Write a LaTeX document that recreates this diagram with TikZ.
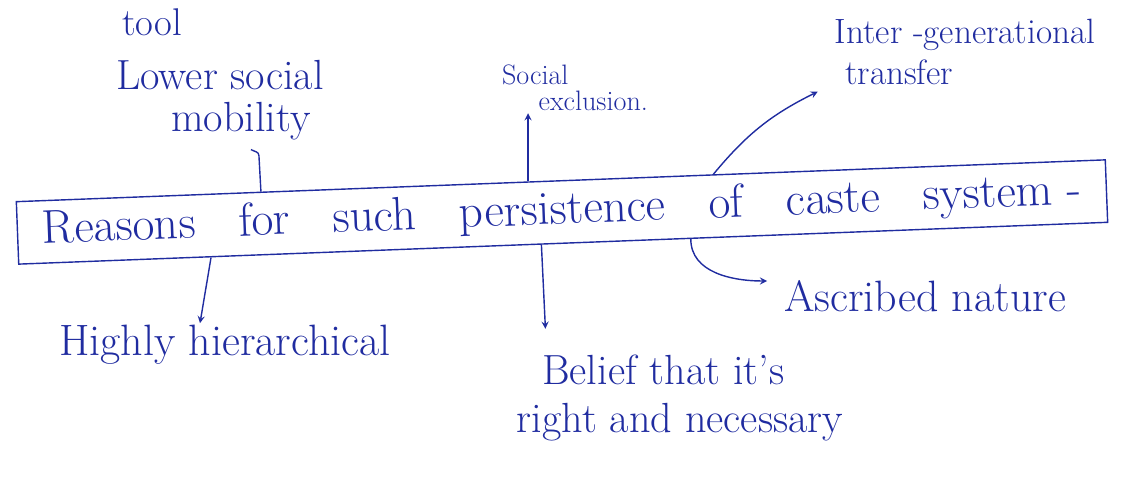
\documentclass[tikz,border=0pt]{standalone}
\usepackage{tikz}
\usetikzlibrary{arrows,positioning,calc}
\definecolor{ink}{RGB}{32,44,160}
\tikzstyle{arrow} = [thick,->,>=stealth,draw=ink]
\tikzstyle{stroke} = [thick,draw=ink]
\tikzstyle{note} = [text=ink,inner sep=1pt,align=left,font=\fontsize{24}{24}\selectfont]
\tikzstyle{titlebox} = [draw=ink,thick,text=ink,rotate=2.2,minimum width=21.8cm,minimum height=1.25cm,font=\fontsize{27}{30}\selectfont]

\begin{document}
\begin{tikzpicture}[x=0.02cm,y=-0.02cm]
	\useasboundingbox (0,0) rectangle (1137,482);
	% the reason box
	\node[titlebox] (reasons) at (562,212) {Reasons \ \ for \ \ such \ \ persistence \ \ of \ \ caste \ \ system -};
	% labels round it
	\node[note,font=\fontsize{22}{24}\selectfont] (tool) at (152,22) {tool};
	\node[note,align=center] (mobility) at (220,100) {Lower social\\\hspace*{1em}mobility};
	\node[note,font=\fontsize{16}{15}\selectfont] (exclusion) at (575,88) {Social\\\hspace*{1.3em}exclusion.};
	\node[note,font=\fontsize{20}{23}\selectfont] (transfer) at (965,52) {Inter -generational\\\hspace*{0.3em}transfer};
	\node[note,font=\fontsize{25}{26}\selectfont] (hier) at (225,345) {Highly hierarchical};
	\node[note,font=\fontsize{24}{27}\selectfont] (belief) at (680,398) {\hspace*{0.6em}Belief that it's\\right and necessary};
	\node[note,font=\fontsize{25}{26}\selectfont] (ascribed) at (925,296) {Ascribed nature};
	% points on the box edges
	\coordinate (tmob) at ($(reasons.north west)!0.225!(reasons.north east)$);
	\coordinate (texc) at ($(reasons.north west)!0.47!(reasons.north east)$);
	\coordinate (ttra) at ($(reasons.north west)!0.64!(reasons.north east)$);
	\coordinate (bhie) at ($(reasons.south west)!0.177!(reasons.south east)$);
	\coordinate (bbel) at ($(reasons.south west)!0.48!(reasons.south east)$);
	\coordinate (basc) at ($(reasons.south west)!0.617!(reasons.south east)$);
	% connectors
	\draw[stroke] (tmob) -- ++(-2,-36) to[out=90,in=-30] ++(-8,-6);
	\draw[arrow] (texc) -- (texc |- exclusion.south);
	\draw[arrow] (ttra) to[bend left=12] ([xshift=-0.3cm,yshift=-0.1cm]transfer.south west);
	\draw[arrow] (bhie) -- ([xshift=-0.5cm]hier.north);
	\draw[arrow] (bbel) -- ++(4,84);
	\draw[arrow] (basc) to[out=-90,in=180] ([xshift=-0.3cm,yshift=0.3cm]ascribed.west);
\end{tikzpicture}
\end{document}
